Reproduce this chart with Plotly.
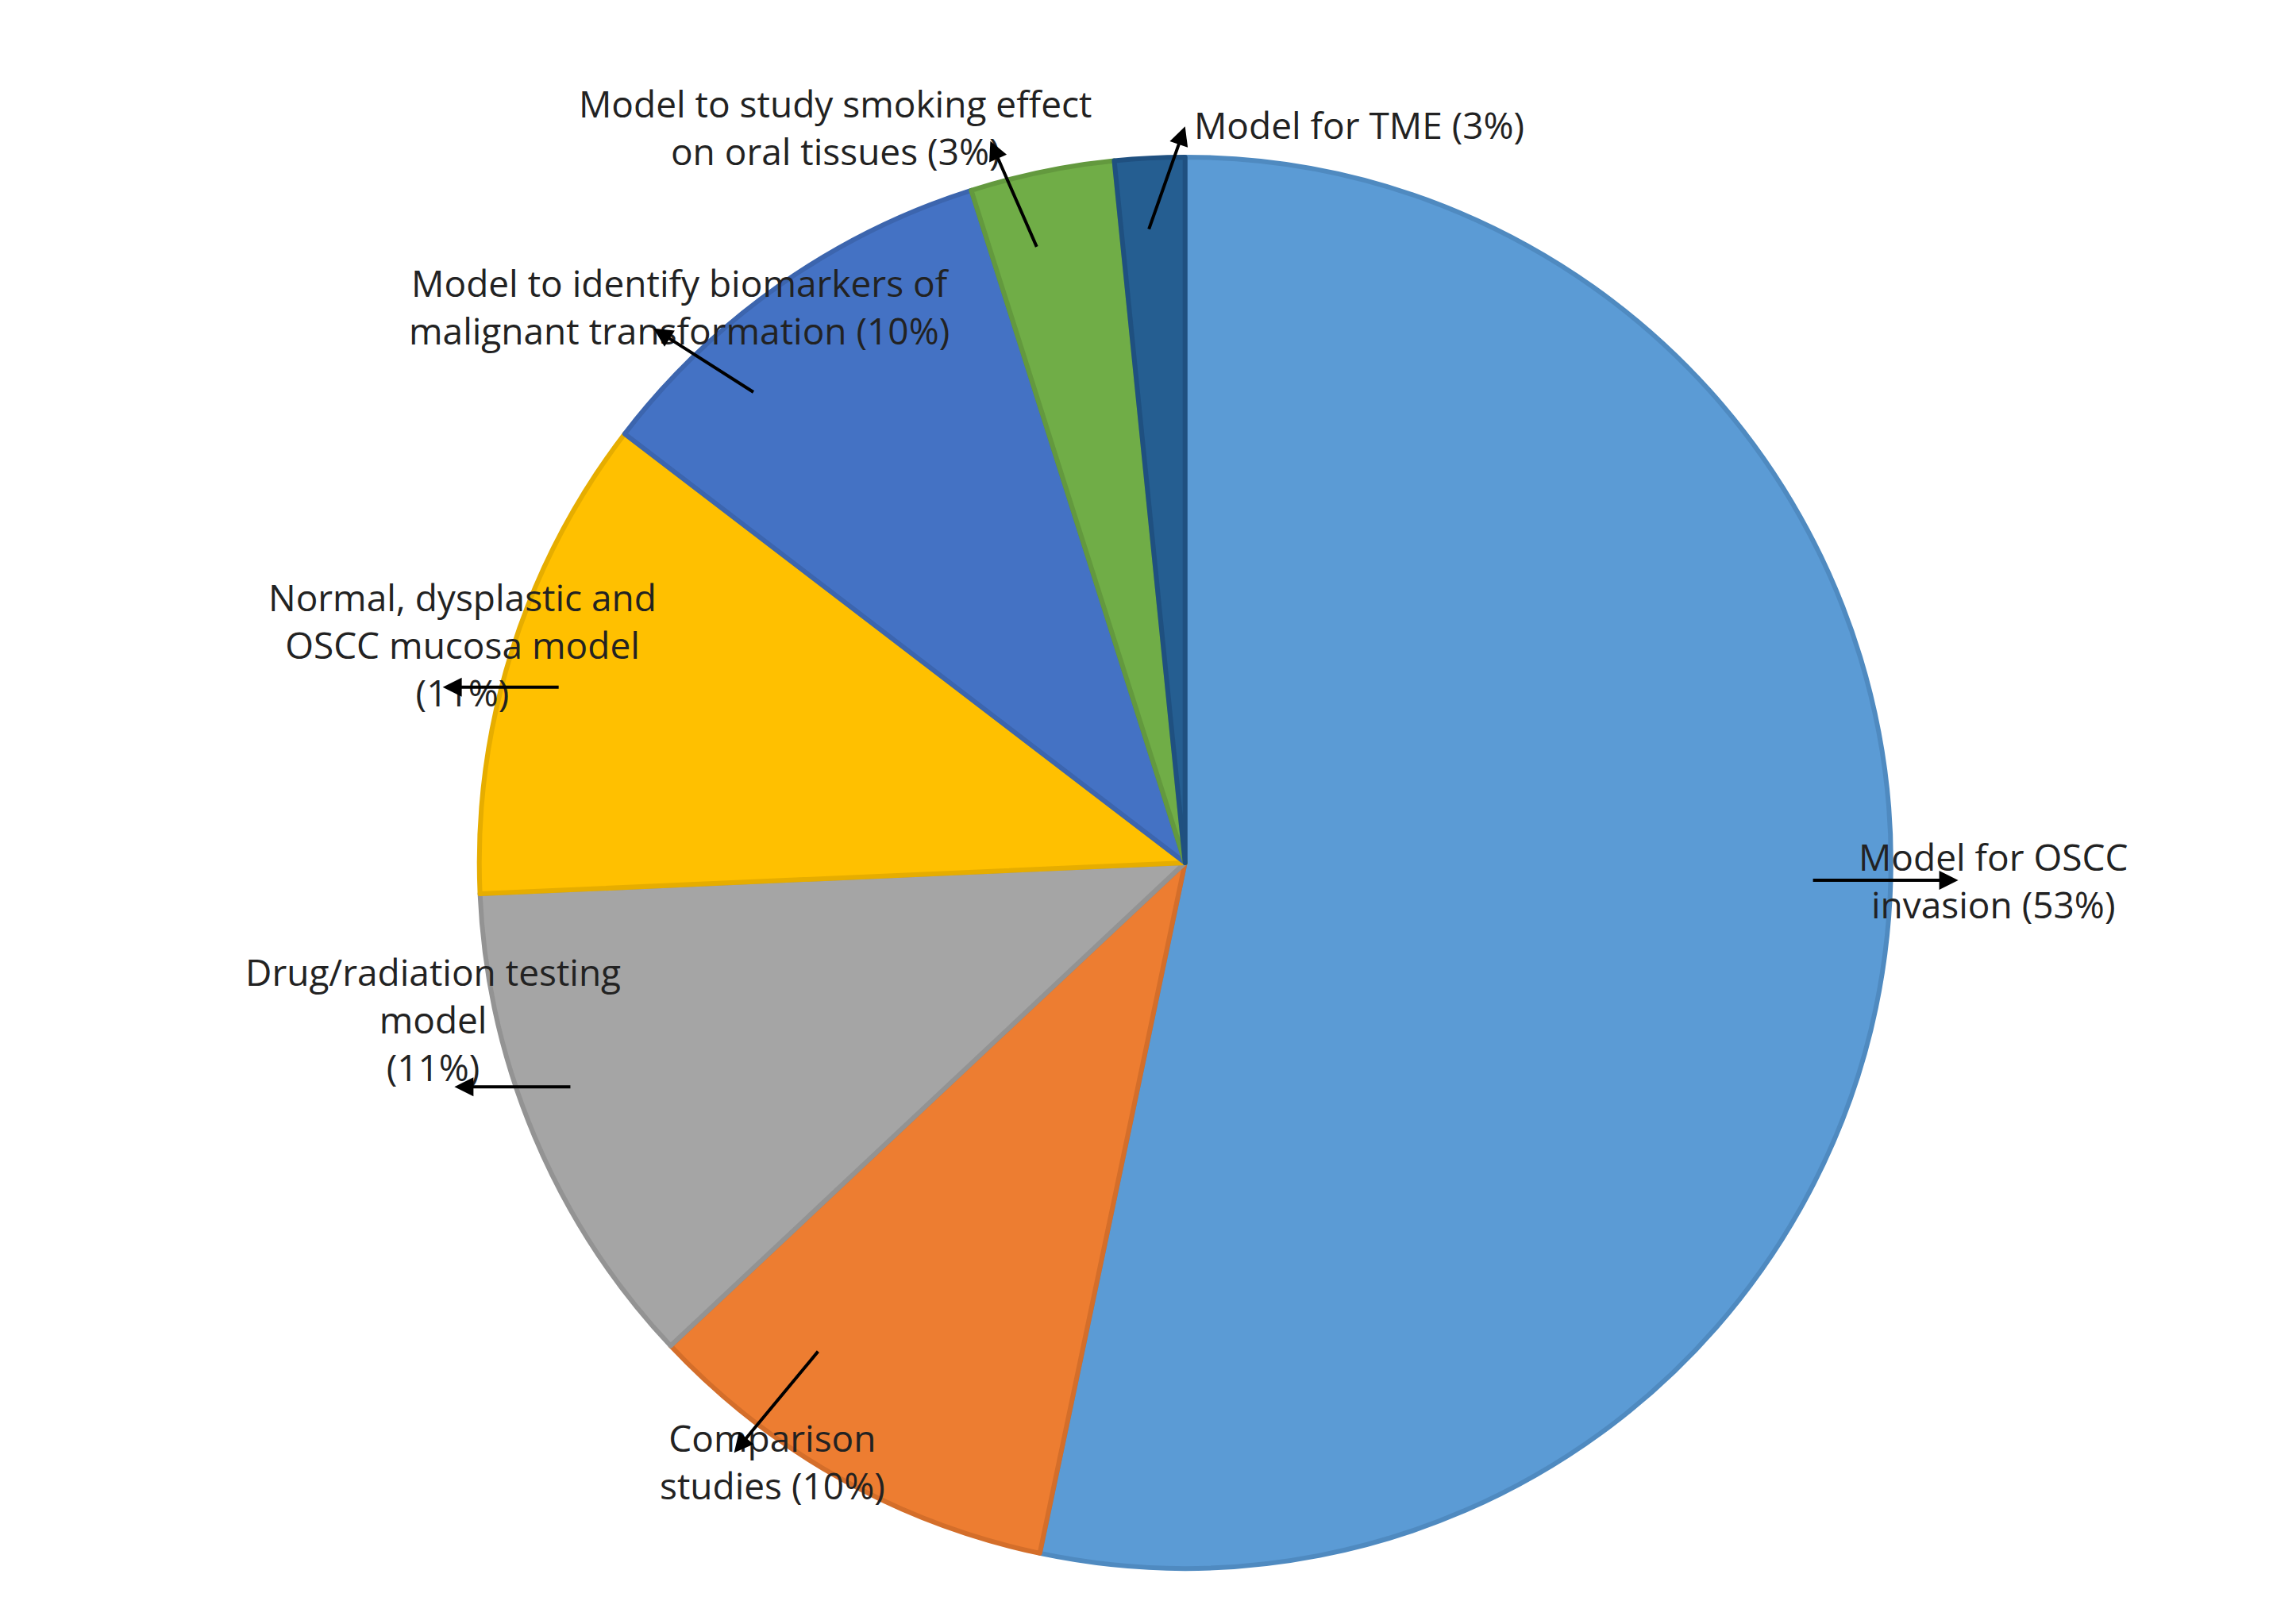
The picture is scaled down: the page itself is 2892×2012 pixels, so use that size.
import plotly.graph_objects as go

labels = ["Model for OSCC<br>invasion (53%)", "Comparison<br>studies (10%)",
          "Drug/radiation testing<br>model<br>(11%)", "Normal, dysplastic and<br>OSCC mucosa model<br>(11%)",
          "Model to identify biomarkers of<br>malignant transformation (10%)",
          "Model to study smoking effect<br>on oral tissues (3%)", "Model for TME (3%)"]
values = [53.3, 9.7, 11.3, 11.1, 9.7, 3.3, 1.6]
colors = ["#5B9BD5", "#ED7D31", "#A5A5A5", "#FFC000", "#4472C4", "#70AD47", "#255E91"]
borders = ["#4F8AC0", "#D46E2A", "#939393", "#E6AD00", "#3C65AE", "#63993E", "#1F5080"]

W, H = 2892, 2012
S = W / 1568
# display-coordinate positions (text center, arrow tail, arrow head)
text_pos = [(1450, 597), (445, 1028), (162, 742), (178, 436), (274, 171), (566, 48), (924, 63)]
tails = [(1233, 597), (555, 918), (386, 738), (378, 465), (511, 264), (704, 165), (780, 153)]
heads = [(1333, 597), (497, 988), (306, 738), (298, 465), (442, 220), (672, 92), (805, 82)]

cx, cy, r = 805, 585, 482
fig = go.Figure(go.Pie(
    values=values, labels=labels, sort=False, direction="clockwise", rotation=0,
    marker=dict(colors=colors, line=dict(color=borders, width=6)),
    textinfo="none", hoverinfo="label+percent", showlegend=False,
    domain=dict(x=[(cx - r) / 1568, (cx + r) / 1568],
                y=[1 - (cy + r) * S / H, 1 - (cy - r) * S / H])))

ann = []
for lab, (tx, ty), (ax_, ay_), (hx, hy) in zip(labels, text_pos, tails, heads):
    ann.append(dict(x=tx / 1568, y=1 - ty * S / H, xref="paper", yref="paper", text=lab,
                    showarrow=False, font=dict(size=46, color="#222", family="Open Sans"),
                    align="center"))
    ann.append(dict(x=hx / 1568, y=1 - hy * S / H, xref="paper", yref="paper", text="",
                    showarrow=True, arrowhead=2, arrowsize=1.2, arrowwidth=4, arrowcolor="black",
                    ax=(ax_ - hx) * S, ay=(ay_ - hy) * S))
fig.update_layout(width=W, height=H, margin=dict(l=0, r=0, t=0, b=0),
                  paper_bgcolor="white", annotations=ann)
fig.write_html("out.html")
